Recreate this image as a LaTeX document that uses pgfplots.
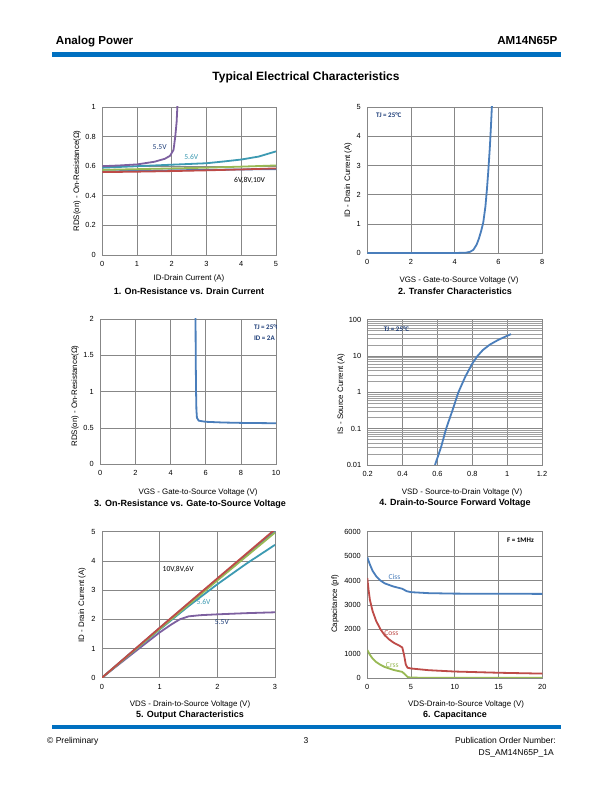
\documentclass[border=0pt]{standalone}
\usepackage{pgfplots}
\pgfplotsset{compat=1.18}
\usepackage{fontspec}
\setmainfont{Liberation Sans}
\newfontfamily\calfont{Carlito}
\definecolor{barblue}{HTML}{0070C0}
\definecolor{gridgray}{HTML}{878787}
\definecolor{lblue}{HTML}{4A7EBB}
\definecolor{lred}{HTML}{BE4B48}
\definecolor{lgreen}{HTML}{98B954}
\definecolor{lpurple}{HTML}{7D60A0}
\definecolor{lteal}{HTML}{3C9AB2}
\definecolor{navy}{HTML}{1F3F7A}
\pgfplotsset{
 ds/.style={scale only axis, anchor=south west,
  axis line style={draw=gridgray, line width=0.7pt},
  grid=major, major grid style={draw=gridgray, line width=0.7pt},
  major tick length=0pt, minor tick length=0pt,
  tick label style={font=\fontsize{7.4}{8}\selectfont},
  xticklabel style={yshift=-3pt},
  yticklabel style={xshift=-3pt},
  /pgf/number format/assume math mode=true,
  /pgf/number format/1000 sep={},
  scaled ticks=false,
  every axis plot/.append style={line width=1.8pt, no markers, line join=round},
 },
}
\newcommand{\labfont}{\fontsize{7.9}{9}\selectfont}
\newcommand{\captxt}{\fontsize{9}{10}\selectfont\bfseries}
\newcommand{\annfont}{\calfont\fontsize{7.6}{8}\selectfont}
\newcommand{\tjfont}{\calfont\fontsize{7}{8}\selectfont\bfseries}
\begin{document}
\begin{tikzpicture}
\path[use as bounding box, fill=white] (0pt,0pt) rectangle (612pt,792pt);
% header
\fill[barblue] (52pt,735.3pt) rectangle (560.7pt,739.7pt);
\node[anchor=base west, inner sep=0, font=\fontsize{11.6}{13}\selectfont\bfseries] at (55.7pt,747pt) {Analog Power};
\node[anchor=base east, inner sep=0, font=\fontsize{11.6}{13}\selectfont\bfseries] at (557.5pt,747pt) {AM14N65P};
\node[font=\fontsize{12}{13}\selectfont\bfseries] at (306pt,715pt) {Typical Electrical Characteristics};
% footer
\fill[barblue] (52pt,63pt) rectangle (560.7pt,67pt);
\node[anchor=base west, inner sep=0, font=\fontsize{8.5}{10}\selectfont] at (47pt,48.5pt) {\textcopyright{} Preliminary};
\node[anchor=base, inner sep=0, font=\fontsize{8.5}{10}\selectfont] at (306pt,48.5pt) {3};
\node[anchor=base east, inner sep=0, font=\fontsize{8.5}{10}\selectfont] at (556pt,48.5pt) {Publication Order Number:};
\node[anchor=base east, inner sep=0, font=\fontsize{8.5}{10}\selectfont] at (554pt,36pt) {DS\_AM14N65P\_1A};

% ---------- Chart 1 ----------
\begin{axis}[ds, at={(102.3pt,537pt)}, width=173.7pt, height=148pt,
 xmin=0, xmax=5, ymin=0, ymax=1, xtick={0,1,...,5}, ytick={0,0.2,0.4,0.6,0.8,1},
 yticklabels={0,0.2,0.4,0.6,0.8,1}]
\addplot[lblue] coordinates {(0,0.565)(1,0.568)(2,0.572)(3,0.575)(4,0.578)(5,0.58)};
\addplot[lgreen] coordinates {(0,0.575)(1,0.58)(2,0.585)(3,0.59)(4,0.597)(5,0.605)};
\addplot[lred] coordinates {(0,0.56)(1,0.563)(2,0.567)(3,0.572)(4,0.578)(5,0.585)};
\addplot[lteal] coordinates {(0,0.59)(0.5,0.595)(1,0.6)(2,0.61)(3,0.62)(3.5,0.632)(4,0.645)(4.5,0.665)(5,0.7)};
\addplot[lpurple] coordinates {(0,0.6)(0.5,0.605)(1,0.612)(1.5,0.63)(1.8,0.65)(1.95,0.67)(2.05,0.71)(2.1,0.8)(2.14,0.9)(2.17,1.05)};
\node[font=\annfont, text=navy] at (axis cs:1.65,0.73) {5.5V};
\node[font=\annfont, text=lteal] at (axis cs:2.56,0.665) {5.6V};
\node[font=\annfont] at (axis cs:4.24,0.505) {6V,8V,10V};
\end{axis}
\node[rotate=90, font=\labfont] at (77pt,611pt) {RDS(on) - On-Resistance(Ω)};
\node[font=\labfont] at (189pt,514pt) {ID-Drain Current (A)};
\node[font=\captxt] at (189pt,501pt) {1. On-Resistance vs. Drain Current};

% ---------- Chart 2 ----------
\begin{axis}[ds, at={(367.3pt,538.7pt)}, width=175pt, height=146.3pt,
 xmin=0, xmax=8, ymin=0, ymax=5, xtick={0,2,...,8}, ytick={0,1,...,5}]
\addplot[lblue] coordinates {(0,0.01)(4,0.01)(4.5,0.02)(4.7,0.05)(4.85,0.12)(5.0,0.3)(5.1,0.5)(5.2,0.75)(5.3,1.05)(5.4,1.6)(5.47,2.2)(5.53,2.8)(5.6,3.6)(5.65,4.3)(5.7,5.1)};
\node[font=\tjfont, text=navy] at (axis cs:0.98,4.72) {TJ = 25\textdegree C};
\end{axis}
\node[rotate=90, font=\labfont] at (348pt,612pt) {ID - Drain Current (A)};
\node[font=\labfont] at (459pt,512pt) {VGS - Gate-to-Source Voltage (V)};
\node[font=\captxt] at (455pt,501pt) {2. Transfer Characteristics};

% ---------- Chart 3 ----------
\begin{axis}[ds, at={(100.3pt,327.7pt)}, width=175.7pt, height=145.3pt,
 xmin=0, xmax=10, ymin=0, ymax=2, xtick={0,2,...,10}, ytick={0,0.5,1,1.5,2}]
\addplot[lblue] coordinates {(5.42,2.05)(5.43,1.5)(5.45,1.0)(5.47,0.75)(5.5,0.64)(5.6,0.6)(6,0.585)(7,0.575)(8,0.57)(10,0.565)};
\node[anchor=west, font=\tjfont, text=navy] at (axis cs:8.55,1.89) {TJ = 25\textdegree C};
\node[anchor=west, font=\tjfont, text=navy] at (axis cs:8.55,1.74) {ID = 2A};
\end{axis}
\node[rotate=90, font=\labfont] at (75pt,396pt) {RDS(on) - On-Resistance(Ω)};
\node[font=\labfont] at (198pt,300pt) {VGS - Gate-to-Source Voltage (V)};
\node[font=\captxt] at (190pt,288pt) {3. On-Resistance vs. Gate-to-Source Voltage};

% ---------- Chart 4 ----------
\begin{axis}[ds, at={(367.7pt,327pt)}, width=174.3pt, height=145.3pt, ymode=log,
 xmin=0.2, xmax=1.2, ymin=0.01, ymax=100, xtick={0.2,0.4,...,1.2},
 xticklabels={0.2,0.4,0.6,0.8,1,1.2},
 ytick={0.01,0.1,1,10,100}, yticklabels={0.01,0.1,1,10,100},
 grid=both, minor grid style={draw=gridgray!80, line width=0.5pt},
 minor ytick={0.02,0.03,0.04,0.05,0.06,0.07,0.08,0.09,0.2,0.3,0.4,0.5,0.6,0.7,0.8,0.9,2,3,4,5,6,7,8,9,20,30,40,50,60,70,80,90}]
\addplot[lblue] coordinates {(0.586,0.01)(0.62,0.03)(0.65,0.1)(0.69,0.36)(0.72,1)(0.76,2.7)(0.8,6.2)(0.83,10)(0.86,14.5)(0.9,20.5)(0.95,28)(1.0,36)(1.022,40)};
\node[font=\tjfont, text=navy] at (axis cs:0.365,55) {TJ = 25\textdegree C};
\end{axis}
\node[rotate=90, font=\labfont] at (341pt,398pt) {IS - Source Current (A)};
\node[font=\labfont] at (462pt,300pt) {VSD - Source-to-Drain Voltage (V)};
\node[font=\captxt] at (455pt,289pt) {4. Drain-to-Source Forward Voltage};

% ---------- Chart 5 ----------
\begin{axis}[ds, at={(102pt,114.3pt)}, width=173pt, height=146pt,
 xmin=0, xmax=3, ymin=0, ymax=5, xtick={0,1,2,3}, ytick={0,1,...,5}]
\addplot[lpurple] coordinates {(0,0)(0.5,0.78)(1,1.55)(1.2,1.82)(1.35,2.0)(1.5,2.1)(1.7,2.14)(2,2.17)(2.5,2.21)(3,2.24)};
\addplot[lteal] coordinates {(0,0)(0.5,0.83)(1,1.65)(1.5,2.45)(2,3.2)(2.5,3.9)(3,4.55)};
\addplot[lblue] coordinates {(0,0)(1,1.7)(2,3.38)(3,5.02)};
\addplot[lgreen] coordinates {(0,0)(1,1.67)(2,3.33)(3,4.97)};
\addplot[lred] coordinates {(0,0)(1,1.71)(2,3.4)(3,5.08)};
\node[font=\annfont] at (axis cs:1.32,3.71) {10V,8V,6V};
\node[font=\annfont, text=lteal] at (axis cs:1.76,2.6) {5.6V};
\node[font=\annfont, text=navy] at (axis cs:2.08,1.9) {5.5V};
\end{axis}
\node[rotate=90, font=\labfont] at (82pt,187pt) {ID - Drain Current (A)};
\node[font=\labfont] at (190pt,88pt) {VDS - Drain-to-Source Voltage (V)};
\node[font=\captxt] at (190pt,77pt) {5. Output Characteristics};

% ---------- Chart 6 ----------
\begin{axis}[ds, at={(367.3pt,114pt)}, width=175pt, height=146.3pt,
 xmin=0, xmax=20, ymin=0, ymax=6000, xtick={0,5,...,20}, ytick={0,1000,...,6000}]
\addplot[lblue] coordinates {(0,4950)(0.3,4650)(0.6,4400)(1,4180)(1.5,4000)(2,3880)(3,3750)(4,3660)(4.5,3560)(5,3520)(7,3480)(10,3460)(15,3455)(20,3450)};
\addplot[lred] coordinates {(0,4100)(0.15,3600)(0.3,3200)(0.6,2750)(1,2350)(1.5,2000)(2,1750)(2.5,1580)(3,1450)(3.7,1320)(4,1250)(4.2,950)(4.4,550)(4.6,420)(5,390)(7,320)(10,265)(15,215)(20,180)};
\addplot[lgreen] coordinates {(0,1150)(0.3,950)(0.6,800)(1,660)(1.5,540)(2,450)(3,330)(4,250)(4.3,150)(4.6,40)(5,15)(10,10)(20,10)};
\node[font=\annfont, text=lblue] at (axis cs:3.1,4130) {Ciss};
\node[font=\annfont, text=lred] at (axis cs:2.75,1830) {Coss};
\node[font=\annfont, text=lgreen] at (axis cs:2.85,520) {Crss};
\node[font=\tjfont, text=black] at (axis cs:17.5,5630) {F = 1MHz};
\end{axis}
\node[rotate=90, font=\labfont] at (335pt,188pt) {Capacitance (pf)};
\node[font=\labfont] at (466pt,88pt) {VDS-Drain-to-Source Voltage (V)};
\node[font=\captxt] at (455pt,77pt) {6. Capacitance};
\end{tikzpicture}
\end{document}
